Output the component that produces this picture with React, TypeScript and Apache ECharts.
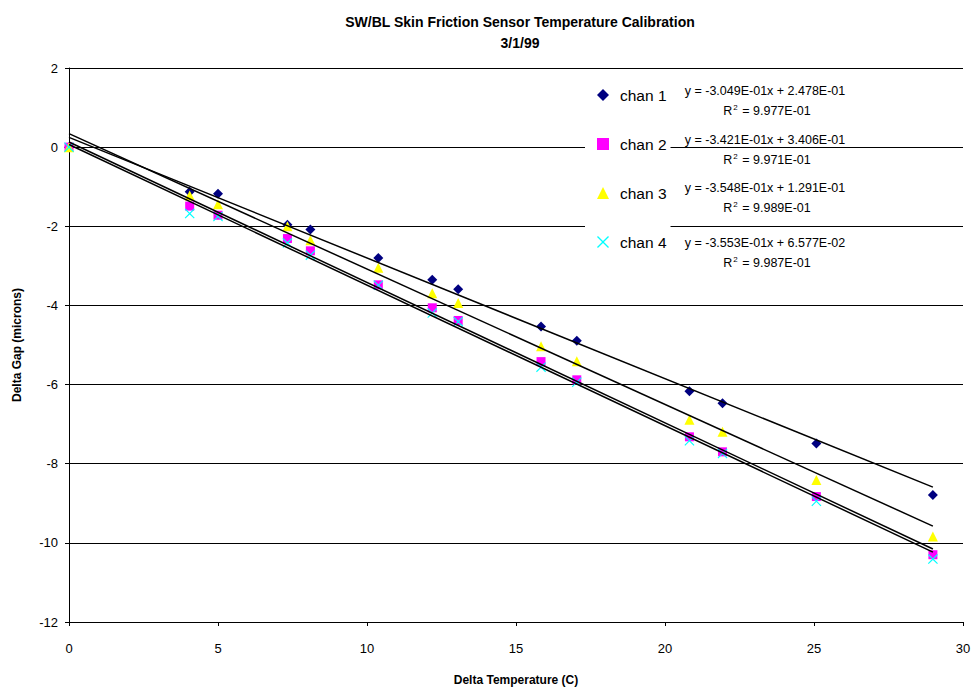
import React, { useEffect, useRef } from "react";
import * as echarts from "echarts";

const FONT = "Liberation Sans, Arial, Helvetica, sans-serif";

const titleText = "SW/BL Skin Friction Sensor Temperature Calibration";
const subTitleText = "3/1/99";
const xAxisTitle = "Delta Temperature (C)";
const yAxisTitle = "Delta Gap (microns)";

const seriesNames = ["chan 1", "chan 2", "chan 3", "chan 4"];
const seriesColors = ["#000080", "#FF00FF", "#FFFF00", "#00FFFF"];

const deltaTemp = [0, 4.05, 5.0, 7.33, 8.1, 10.38, 12.19, 13.06, 15.84, 17.04, 20.82, 21.93, 25.08, 28.99];

const chan1 = [0, -1.13, -1.18, -1.96, -2.08, -2.8, -3.35, -3.59, -4.53, -4.89, -6.17, -6.47, -7.49, -8.79];
const chan2 = [0, -1.49, -1.72, -2.31, -2.62, -3.48, -4.06, -4.38, -5.42, -5.88, -7.32, -7.7, -8.83, -10.3];
const chan3 = [0, -1.22, -1.44, -2.0, -2.35, -3.05, -3.69, -3.94, -5.03, -5.41, -6.89, -7.19, -8.41, -9.84];
const chan4 = [0, -1.68, -1.75, -2.42, -2.73, -3.49, -4.19, -4.41, -5.56, -5.94, -7.42, -7.74, -8.95, -10.41];

const slopes = [-0.3049, -0.3421, -0.3548, -0.3553];
const intercepts = [0.2478, 0.3406, 0.1291, 0.06577];
const rSquared = [0.9977, 0.9971, 0.9989, 0.9987];

const xTicks = [0, 5, 10, 15, 20, 25, 30];
const yTicks = [-12, -10, -8, -6, -4, -2, 0, 2];

const channels = [chan1, chan2, chan3, chan4];

const crossPath =
  "path://M0,0.8 L0.8,0 L5,4.2 L9.2,0 L10,0.8 L5.8,5 L10,9.2 L9.2,10 L5,5.8 L0.8,10 L0,9.2 L4.2,5 Z";
const seriesSymbols = ["diamond", "rect", "triangle", crossPath];
const seriesSymbolSizes = [10, 9, 10, 10];

function fmtE(v: number): string {
  const s = v.toExponential(3);
  const [mant, exp] = s.split("e");
  const e = parseInt(exp, 10);
  const sign = e < 0 ? "-" : "+";
  const abs = Math.abs(e);
  return `${mant}E${sign}${abs < 10 ? "0" + abs : abs}`;
}

export default function App() {
  const ref = useRef<HTMLDivElement>(null);

  useEffect(() => {
    if (!ref.current) return;
    const chart = echarts.init(ref.current, null, { renderer: "svg" });

    const xMax = Math.max(...deltaTemp);

    const scatterSeries = channels.map((vals, i) => ({
      name: seriesNames[i],
      type: "scatter",
      data: deltaTemp.map((x, j) => [x, vals[j]]),
      symbol: seriesSymbols[i],
      symbolSize: seriesSymbolSizes[i],
      itemStyle: { color: seriesColors[i], opacity: 1 },
      z: 3,
    }));

    const trendSeries = slopes.map((m, i) => ({
      name: seriesNames[i] + " trend",
      type: "line",
      data: [
        [0, intercepts[i]],
        [xMax, m * xMax + intercepts[i]],
      ],
      symbol: "none",
      silent: true,
      lineStyle: { color: "#000", width: 1.5 },
      z: 4,
    }));

    const eqCenterX = 765;
    const eqTops = [91, 140, 188, 243];
    const eqGraphics: any[] = [];
    slopes.forEach((m, i) => {
      const b = intercepts[i];
      const eq = `y = ${fmtE(m)}x ${b < 0 ? "-" : "+"} ${fmtE(Math.abs(b))}`;
      eqGraphics.push({
        type: "text",
        x: eqCenterX,
        y: eqTops[i],
        z: 10,
        style: {
          text: eq,
          fontFamily: FONT,
          fontSize: 12.5,
          fill: "#000",
          align: "center",
          verticalAlign: "middle",
        },
      });
      eqGraphics.push({
        type: "text",
        x: eqCenterX + 2,
        y: eqTops[i] + 20,
        z: 10,
        style: {
          text: `R{sup|2} = ${fmtE(rSquared[i])}`,
          fontFamily: FONT,
          fontSize: 12.5,
          fill: "#000",
          align: "center",
          verticalAlign: "middle",
          rich: {
            sup: {
              fontFamily: FONT,
              fontSize: 8,
              fill: "#000",
              padding: [0, 1, 7, 1],
            },
          },
        },
      });
    });

    chart.setOption({
      animation: false,
      backgroundColor: "#fff",
      title: {
        text: titleText + "\n" + subTitleText,
        left: 515,
        textAlign: "center",
        top: 6,
        textStyle: {
          fontFamily: FONT,
          fontSize: 14,
          fontWeight: "bold",
          color: "#000",
          lineHeight: 21,
        },
      },
      grid: { left: 69, right: 11, top: 68, bottom: 73, containLabel: false },
      legend: {
        data: seriesNames,
        orient: "vertical",
        left: 585,
        top: 79,
        padding: [8, 4, 18, 12],
        itemWidth: 12,
        itemHeight: 12,
        itemGap: 33,
        backgroundColor: "#fff",
        textStyle: {
          fontFamily: FONT,
          fontSize: 15.5,
          color: "#000",
          lineHeight: 16,
          padding: [0, 0, 0, 6],
        },
        z: 8,
      },
      xAxis: {
        type: "value",
        min: xTicks[0],
        max: xTicks[xTicks.length - 1],
        interval: 5,
        name: xAxisTitle,
        nameLocation: "middle",
        nameGap: 52,
        nameTextStyle: { fontFamily: FONT, fontSize: 12, fontWeight: "bold", color: "#000" },
        axisLine: { onZero: false, lineStyle: { color: "#000", width: 1 } },
        axisTick: { show: true, inside: false, length: 4, lineStyle: { color: "#000" } },
        axisLabel: { fontFamily: FONT, fontSize: 13, color: "#000", margin: 20 },
        splitLine: { show: false },
      },
      yAxis: {
        type: "value",
        min: yTicks[0],
        max: yTicks[yTicks.length - 1],
        interval: 2,
        name: yAxisTitle,
        nameLocation: "middle",
        nameGap: 46,
        nameTextStyle: { fontFamily: FONT, fontSize: 12, fontWeight: "bold", color: "#000" },
        axisLine: { onZero: false, lineStyle: { color: "#000", width: 1 } },
        axisTick: { show: true, inside: false, length: 4, lineStyle: { color: "#000" } },
        axisLabel: { fontFamily: FONT, fontSize: 13, color: "#000", margin: 11 },
        splitLine: { show: true, lineStyle: { color: "#000", width: 1 } },
      },
      graphic: eqGraphics,
      series: [...scatterSeries, ...trendSeries],
    });

    return () => chart.dispose();
  }, []);

  return (
    <div
      ref={ref}
      style={{ position: "absolute", left: 0, top: 0, width: 974, height: 695 }}
    />
  );
}
